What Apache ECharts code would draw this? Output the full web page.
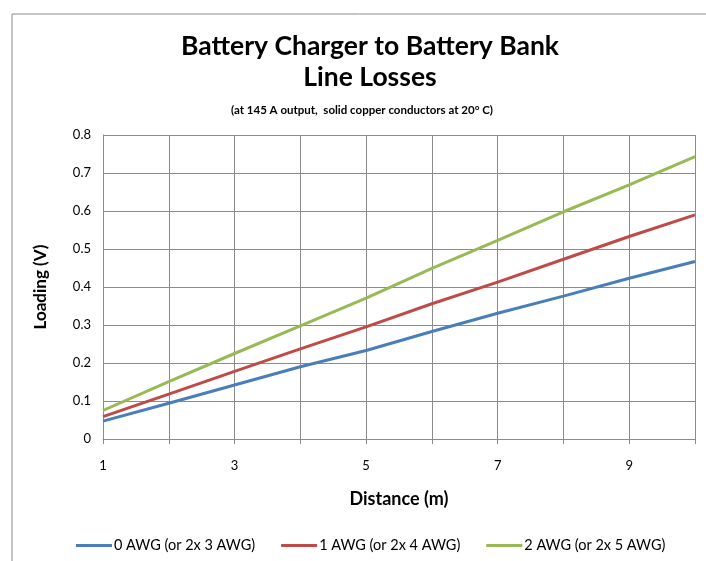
<!DOCTYPE html>
<html>
<head>
<meta charset="utf-8">
<script src="https://cdn.jsdelivr.net/npm/echarts@6/dist/echarts.min.js"></script>
<style>
  html, body { margin: 0; padding: 0; background: #fff; }
  #chart { width: 706px; height: 561px; }
</style>
</head>
<body>
<div id="chart"></div>
<script>
// distance in metres
const distance = [1, 2, 3, 4, 5, 6, 7, 8, 9, 10];
// voltage drop (V) per conductor size
const awg0 = [0.047, 0.094, 0.142, 0.190, 0.233, 0.283, 0.331, 0.376, 0.423, 0.467];
const awg1 = [0.059, 0.118, 0.178, 0.237, 0.295, 0.356, 0.413, 0.473, 0.533, 0.590];
const awg2 = [0.075, 0.151, 0.225, 0.298, 0.371, 0.449, 0.523, 0.598, 0.669, 0.743];
const seriesNames = ['0 AWG (or 2x 3 AWG)', '1 AWG (or 2x 4 AWG)', '2 AWG (or 2x 5 AWG)'];
const xLabels = [1, 3, 5, 7, 9];

const font = 'Lato, "Open Sans", sans-serif';
const gridColor = '#8c8c8c';

function pairs(ys) {
  return distance.map((x, i) => [x, ys[i]]);
}

const chart = echarts.init(document.getElementById('chart'));
chart.setOption({
  backgroundColor: '#fff',
  animation: false,
  textStyle: { fontFamily: font },
  graphic: [{
    type: 'polyline',
    shape: { points: [[12, 600], [12, 14], [720, 14]] },
    style: { stroke: '#8c8c8c', lineWidth: 1, fill: null }
  }],
  title: [
    {
      text: 'Battery Charger to Battery Bank\nLine Losses',
      left: 365, top: 26, textAlign: 'center',
      textStyle: { fontFamily: font, fontSize: 26.5, fontWeight: 'bold', color: '#000', lineHeight: 31 }
    },
    {
      text: '(at 145 A output,  solid copper conductors at 20° C)',
      left: 357, top: 99, textAlign: 'center',
      textStyle: { fontFamily: font, fontSize: 11.5, fontWeight: 'bold', color: '#000' }
    }
  ],
  legend: {
    bottom: 3, left: 71,
    itemWidth: 36, itemHeight: 3, itemGap: 26,
    icon: 'rect',
    textStyle: { fontFamily: font, fontSize: 14.5, color: '#000', padding: [0, 0, 0, -3] },
    data: seriesNames
  },
  grid: { left: 103, right: 11, top: 135, bottom: 122 },
  xAxis: {
    type: 'value', min: 1, max: 10, interval: 1,
    name: 'Distance (m)', nameLocation: 'middle', nameGap: 51,
    nameTextStyle: { fontFamily: font, fontSize: 18, fontWeight: 'bold', color: '#000' },
    axisLine: { lineStyle: { color: gridColor } },
    axisTick: { show: true, length: 5, lineStyle: { color: gridColor } },
    axisLabel: {
      margin: 20, fontSize: 13, color: '#000',
      formatter: v => xLabels.includes(v) ? String(v) : ''
    },
    splitLine: { show: true, lineStyle: { color: gridColor, width: 1 } }
  },
  yAxis: {
    type: 'value', min: 0, max: 0.8, interval: 0.1,
    name: 'Loading (V)', nameLocation: 'middle', nameGap: 54, nameRotate: 90,
    nameTextStyle: { fontFamily: font, fontSize: 17, fontWeight: 'bold', color: '#000' },
    axisLine: { show: true, lineStyle: { color: gridColor } },
    axisTick: { show: false },
    axisLabel: { margin: 12, fontSize: 13, color: '#000', formatter: v => String(Math.round(v * 10) / 10) },
    splitLine: { show: true, lineStyle: { color: gridColor, width: 1 } }
  },
  series: [
    { name: seriesNames[0], type: 'line', data: pairs(awg0), showSymbol: false, lineStyle: { width: 3, color: '#4a7ebb' }, itemStyle: { color: '#4a7ebb' } },
    { name: seriesNames[1], type: 'line', data: pairs(awg1), showSymbol: false, lineStyle: { width: 3, color: '#be4b48' }, itemStyle: { color: '#be4b48' } },
    { name: seriesNames[2], type: 'line', data: pairs(awg2), showSymbol: false, lineStyle: { width: 3, color: '#98b954' }, itemStyle: { color: '#98b954' } }
  ]
});
</script>
</body>
</html>
